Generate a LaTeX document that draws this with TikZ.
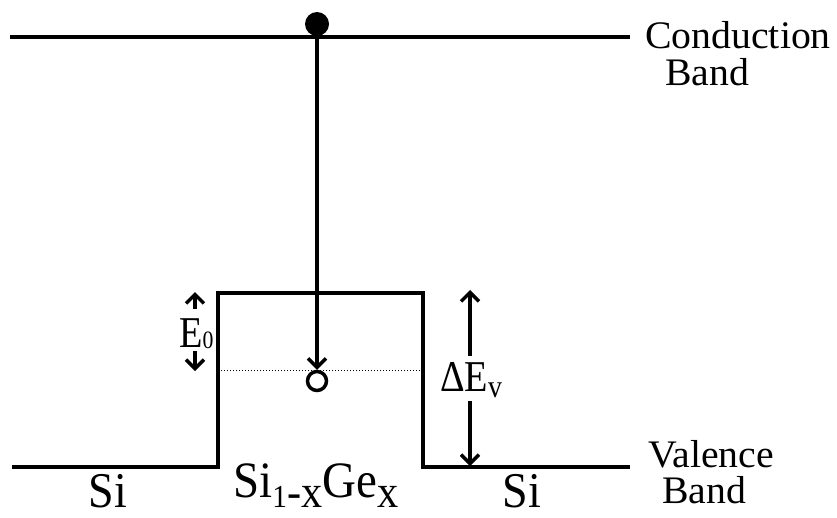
\documentclass[tikz,border=0pt]{standalone}
\usepackage{fontspec}
\setmainfont{Liberation Serif}
\newfontfamily\bandfont[FakeStretch=1.02]{Liberation Serif}
\newfontfamily\narrowfont[FakeStretch=0.87]{Liberation Serif}
\newfontfamily\sifont[FakeStretch=0.92]{Liberation Serif}
\usetikzlibrary{arrows.meta}
\begin{document}
\begin{tikzpicture}[x=1pt,y=-1pt,
  bandline/.style={line width=4.5pt},
  barb/.style={line width=3.5pt,-{Straight Barb[length=9pt,width=18pt]}},
  lbl/.style={inner sep=0pt,anchor=base},
  bandlbl/.style={lbl,font=\bandfont\fontsize{39pt}{42pt}\selectfont},
  silbl/.style={lbl,font=\sifont\fontsize{50pt}{53pt}\selectfont}]
\useasboundingbox (0,0) rectangle (837,517);
% band edges
\coordinate (cbL) at (10,37);
\coordinate (cbR) at (630,37);
\coordinate (vL) at (12,467);
\coordinate (w1b) at (218,467);
\coordinate (w1t) at (218,293);
\coordinate (w2t) at (423,293);
\coordinate (w2b) at (423,467);
\coordinate (vR) at (630,467);
\draw[bandline] (cbL) -- (cbR);
\draw[bandline,line join=miter] (vL) -- (w1b) -- (w1t) -- (w2t) -- (w2b) -- (vR);
% confined level
\coordinate (dL) at (218,370);
\coordinate (dR) at (423,370);
\draw[line width=1pt,dotted] (dL) -- (dR);
% electron and hole
\node[circle,fill,inner sep=0pt,minimum size=24pt] (el) at (317,24) {};
\node[circle,draw,line width=3.5pt,inner sep=0pt,minimum size=19pt] (ho) at (317,381) {};
\draw[barb] (el.center) -- (ho.north);
% E0 arrows
\coordinate (e0a) at (195,309);
\coordinate (e0at) at (195,292);
\coordinate (e0b) at (195,351);
\coordinate (e0bt) at (195,371);
\draw[barb] (e0a) -- (e0at);
\draw[barb] (e0b) -- (e0bt);
\node[inner sep=0pt,anchor=base west] (E0) at (179,347)
  {\narrowfont\fontsize{44pt}{46pt}\selectfont E\raisebox{-1pt}{\fontsize{25pt}{26pt}\selectfont 0}};
% Delta Ev arrows
\coordinate (dva) at (470,356);
\coordinate (dvat) at (470,290);
\coordinate (dvb) at (470,401);
\coordinate (dvbt) at (470,466);
\draw[barb] (dva) -- (dvat);
\draw[barb] (dvb) -- (dvbt);
\node[inner sep=0pt,anchor=base west] (dEv) at (440,391)
  {\narrowfont\fontsize{44pt}{46pt}\selectfont ΔE\raisebox{-6pt}{\fontsize{32pt}{34pt}\selectfont v}};
% material labels
\node[silbl] (si1) at (108,507) {Si};
\node[silbl] (si2) at (522,507) {Si};
\node[inner sep=0pt,anchor=base west] (sige) at (233,497)
  {\sifont\fontsize{51pt}{54pt}\selectfont Si\raisebox{-10pt}{\fontsize{32pt}{34pt}\selectfont 1\fontsize{46pt}{48pt}\selectfont -x}Ge\raisebox{-10pt}{\fontsize{46pt}{48pt}\selectfont x}};
% band labels
\node[bandlbl] (cond) at (738,48) {Conduction};
\node[bandlbl] (cband) at (707,85) {Band};
\node[bandlbl] (val) at (711,467) {Valence};
\node[bandlbl] (vband) at (704,503) {Band};
\end{tikzpicture}
\end{document}
